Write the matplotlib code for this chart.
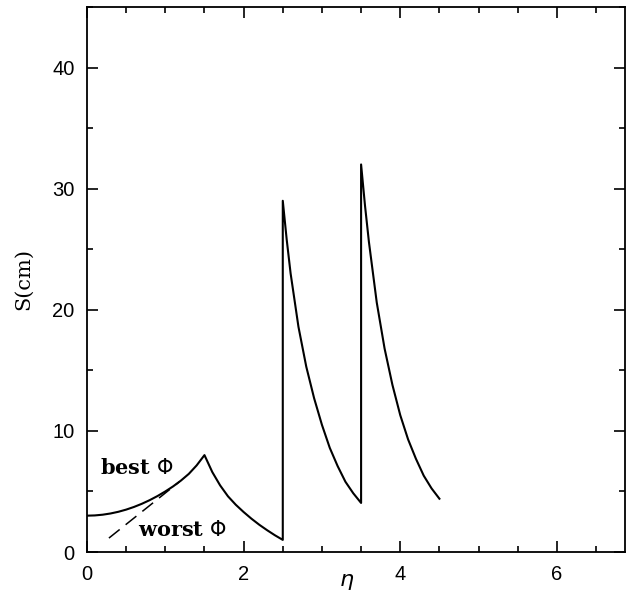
import numpy as np
import matplotlib
matplotlib.use("Agg")
import matplotlib.pyplot as plt
from matplotlib.ticker import MultipleLocator

# best-phi curve
rise_x = [0.0, 0.1, 0.2, 0.3, 0.4, 0.5, 0.6, 0.7, 0.8, 0.9, 1.0, 1.1, 1.2, 1.3, 1.4, 1.5]
rise_y = [3.0, 3.02, 3.08, 3.18, 3.32, 3.5, 3.72, 3.98, 4.28, 4.62, 5.0, 5.42, 5.9, 6.45, 7.15, 8.0]

fall_x = [1.5, 1.6, 1.7, 1.8, 1.9, 2.0, 2.1, 2.2, 2.3, 2.4, 2.5]
fall_y = [8.0, 6.6, 5.5, 4.6, 3.9, 3.3, 2.75, 2.25, 1.8, 1.38, 1.0]

decay1_x = [2.5, 2.5, 2.55, 2.6, 2.7, 2.8, 2.9, 3.0, 3.1, 3.2, 3.3, 3.4, 3.5]
decay1_y = [1.0, 29.0, 25.8, 23.0, 18.6, 15.3, 12.7, 10.5, 8.6, 7.1, 5.8, 4.85, 4.05]

decay2_x = [3.5, 3.5, 3.55, 3.6, 3.7, 3.8, 3.9, 4.0, 4.1, 4.2, 4.3, 4.4, 4.5]
decay2_y = [4.05, 32.0, 28.6, 25.6, 20.6, 16.8, 13.8, 11.3, 9.3, 7.7, 6.3, 5.25, 4.4]

# worst-phi dashed branch
worst_x = [0.28, 1.18]
worst_y = [1.15, 5.8]

x = np.array(rise_x + fall_x[1:] + decay1_x[1:] + decay2_x[1:])
y = np.array(rise_y + fall_y[1:] + decay1_y[1:] + decay2_y[1:])

fig = plt.figure(figsize=(6.26, 5.92), dpi=100)
ax = fig.add_axes([87 / 626, 1 - 552 / 592, 538 / 626, 545 / 592])

ax.plot(x, y, color="black", lw=1.5)
ax.plot(worst_x, worst_y, color="black", lw=1.1, dashes=(9, 5))

ax.set_xlim(0, 6.87)
ax.set_ylim(0, 45)

ax.xaxis.set_major_locator(MultipleLocator(2))
ax.xaxis.set_minor_locator(MultipleLocator(0.5))
ax.yaxis.set_major_locator(MultipleLocator(10))
ax.yaxis.set_minor_locator(MultipleLocator(5))
ax.tick_params(which="both", direction="in", top=True, right=True, width=1.2,
               labelsize=14.5)
ax.tick_params(which="major", length=8)
ax.tick_params(which="minor", length=4)
ax.tick_params(axis="x", pad=9)
ax.tick_params(axis="y", pad=9)
for lbl in ax.get_xticklabels() + ax.get_yticklabels():
    lbl.set_family("Liberation Sans")
for sp in ax.spines.values():
    sp.set_linewidth(1.3)

ax.set_ylabel("S(cm)", family="DejaVu Serif", fontsize=15, labelpad=14)
ax.text(3.32, -2.45, r"$\eta$", fontsize=16, ha="center", va="center")

ax.text(0.17, 6.9, r"best $\Phi$", family="DejaVu Serif", fontsize=15,
        fontweight="bold", va="center")
ax.text(0.65, 1.8, r"worst $\Phi$", family="DejaVu Serif", fontsize=15,
        fontweight="bold", va="center")

fig.savefig("out.png", dpi=100)
